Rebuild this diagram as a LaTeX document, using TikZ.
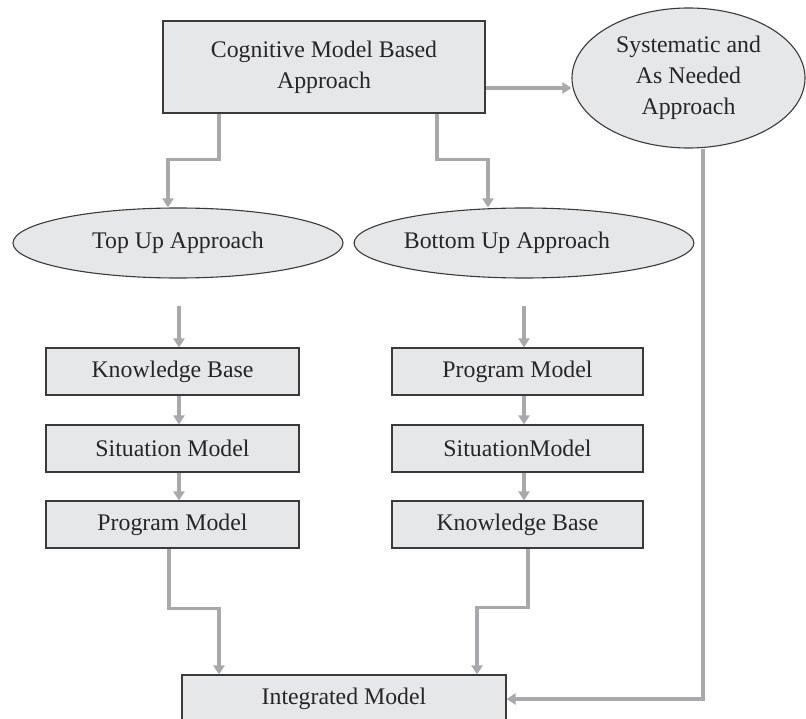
\documentclass[tikz,border=0pt]{standalone}
\usepackage{fontspec}
\setmainfont{Liberation Serif}
\usetikzlibrary{arrows.meta,shapes.geometric}

\definecolor{boxfill}{HTML}{E6E7E8}
\definecolor{boxline}{HTML}{3A3A3A}
\definecolor{linkgray}{HTML}{A7A9AC}

\tikzset{
  base/.style={draw=boxline, line width=1.1pt, fill=boxfill, inner sep=0pt,
    text=black!85, font=\fontsize{23.8}{31}\selectfont, align=center},
  stepbox/.style={base, rectangle, minimum height=47pt},
  oval/.style={base, ellipse},
  conn/.style={draw=linkgray, line width=3.4pt,
    -{Triangle[length=9pt,width=11pt]}},
}

\begin{document}
\begin{tikzpicture}[x=1pt,y=-1pt]
\useasboundingbox (0,0) rectangle (806,719);

% top level
\node[stepbox, minimum width=322pt, minimum height=92pt] (cog) at (324,67)
  {Cognitive Model Based\\Approach};
\node[oval, minimum width=233pt, minimum height=140pt] (sys) at (688.5,78)
  {Systematic and\\As Needed\\Approach};

% the two approaches
\node[oval, minimum width=330pt, minimum height=70pt] (topup) at (178,243)
  {Top Up Approach};
\node[oval, minimum width=330pt, minimum height=70pt] (botup) at (524,243)
  {Bottom Up Approach\hspace*{34pt}};

% left column
\node[stepbox, minimum width=253pt] (kbL)  at (172.5,371.5) {Knowledge Base};
\node[stepbox, minimum width=253pt] (sitL) at (172.5,448.5) {Situation Model};
\node[stepbox, minimum width=253pt] (pmL)  at (172.5,524.5) {Program Model};

% right column
\node[stepbox, minimum width=251pt] (pmR)  at (517.5,371.5) {Program Model};
\node[stepbox, minimum width=251pt] (sitR) at (517.5,448.5) {SituationModel};
\node[stepbox, minimum width=251pt] (kbR)  at (517.5,524.5) {Knowledge Base};

% result
\node[stepbox, minimum width=324pt, minimum height=48pt] (int) at (344,699)
  {Integrated Model};

% free starts of the column arrows
\coordinate (startL) at (179,306);
\coordinate (startR) at (524,306);

% connectors
\draw[conn] ([yshift=-21pt]cog.east) -- ([yshift=-10pt]sys.west);
\draw[conn] ([xshift=-105pt]cog.south) -- ++(0,46) -| ([xshift=-10pt]topup.north);
\draw[conn] ([xshift=113pt]cog.south) -- ++(0,46) -| ([xshift=-36pt]botup.north);

\draw[conn] (startL) -- (startL |- kbL.north);
\draw[conn] ([xshift=6.5pt]kbL.south) -- ([xshift=6.5pt]sitL.north);
\draw[conn] ([xshift=6.5pt]sitL.south) -- ([xshift=6.5pt]pmL.north);

\draw[conn] (startR) -- (startR |- pmR.north);
\draw[conn] ([xshift=6.5pt]pmR.south) -- ([xshift=6.5pt]sitR.north);
\draw[conn] ([xshift=6.5pt]sitR.south) -- ([xshift=6.5pt]kbR.north);

\draw[conn] ([xshift=-3.5pt]pmL.south) -- ++(0,60) -| ([xshift=-125pt]int.north);
\draw[conn] ([xshift=10.5pt]kbR.south) -- ++(0,59) -| ([xshift=133pt]int.north);
\draw[conn] ([xshift=14.5pt]sys.south) |- (int.east);
\end{tikzpicture}
\end{document}
